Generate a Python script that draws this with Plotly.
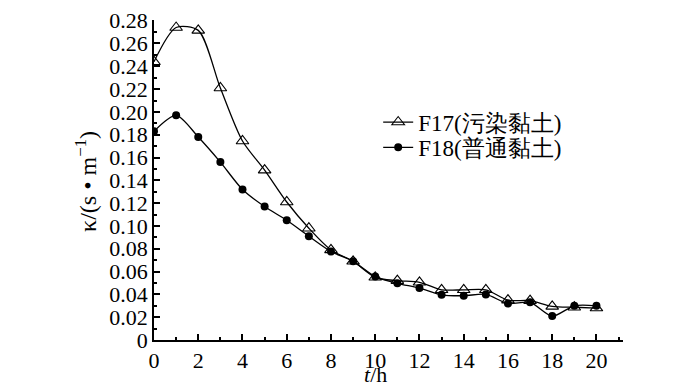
import plotly.graph_objects as go

t_hours = list(range(0, 21))
f17_values = [0.244, 0.274, 0.2715, 0.221, 0.1745, 0.149, 0.121, 0.098, 0.079, 0.069,
              0.055, 0.052, 0.0506, 0.044, 0.044, 0.044, 0.035, 0.0345, 0.0295, 0.0287, 0.028]
f18_values = [0.183, 0.197, 0.178, 0.156, 0.132, 0.117, 0.105, 0.091, 0.0776, 0.069,
              0.0556, 0.0497, 0.0455, 0.0396, 0.0388, 0.040, 0.032, 0.033, 0.021, 0.030, 0.030]
series_names = ["F17(污染黏土)", "F18(普通黏土)"]
y_ticks = [round(0.02 * i, 2) for i in range(15)]
y_tick_text = ["0" if v == 0 else f"{v:.2f}" for v in y_ticks]
x_ticks = list(range(0, 21, 2))

FONT = "Liberation Serif"

fig = go.Figure()
fig.add_trace(go.Scatter(
    x=t_hours, y=f17_values, name=series_names[0], mode="lines+markers", legend="legend",
    line=dict(color="black", width=1.3, shape="spline", smoothing=0.8),
    marker=dict(symbol="triangle-up-open", size=11, color="black", line=dict(width=1.1)),
))
fig.add_trace(go.Scatter(
    x=t_hours, y=f18_values, name=series_names[1], mode="lines+markers", legend="legend2",
    line=dict(color="black", width=1.3, shape="spline", smoothing=0.8),
    marker=dict(symbol="circle", size=8, color="black"),
))

legend_style = dict(xanchor="left", yanchor="middle", bgcolor="rgba(0,0,0,0)",
                    font=dict(size=23, family=FONT), itemwidth=30)

fig.update_layout(
    width=700, height=389,
    margin=dict(l=154, r=77, t=8, b=49),
    plot_bgcolor="white", paper_bgcolor="white",
    font=dict(family=FONT, size=22, color="black"),
    showlegend=True,
    legend=dict(x=0.478, y=0.681, **legend_style),
    legend2=dict(x=0.478, y=0.602, **legend_style),
    xaxis=dict(
        range=[0, 21.2], tickvals=x_ticks, ticks="inside", ticklen=6, tickwidth=1.5,
        tickcolor="black", showline=True, linecolor="black", linewidth=1.5,
        showgrid=False, zeroline=False, ticklabeloverflow="allow",
        minor=dict(dtick=1, tick0=0, ticks="inside", ticklen=3, tickwidth=1.5, tickcolor="black"),
        tickfont=dict(size=22, family=FONT),
    ),
    yaxis=dict(
        range=[0, 0.2806], tickvals=y_ticks, ticktext=y_tick_text, ticks="inside", ticklen=6,
        tickwidth=1.5, tickcolor="black", showline=True, linecolor="black", linewidth=1.5,
        showgrid=False, zeroline=False, ticklabeloverflow="allow",
        minor=dict(dtick=0.01, tick0=0, ticks="inside", ticklen=3, tickwidth=1.5, tickcolor="black"),
        tickfont=dict(size=22, family=FONT),
    ),
    annotations=[
        dict(text="<i>t</i>/h", x=10, xref="x", y=-0.108, yref="paper",
             xanchor="center", yanchor="middle", showarrow=False,
             font=dict(size=22, family=FONT)),
        dict(text="κ/(s • m<sup>−1</sup>)", x=-0.145, xref="paper", y=0.497, yref="paper",
             xanchor="center", yanchor="middle", textangle=-90, showarrow=False,
             font=dict(size=24, family=FONT)),
    ],
)

fig.write_html("out.html", config={"displayModeBar": False})

# remove the default page margin so the figure sits at the window's top-left corner
with open("out.html", encoding="utf-8") as fh:
    html = fh.read()
html = html.replace("<head>", "<head><style>html,body{margin:0;padding:0;overflow:hidden;}</style>", 1)
with open("out.html", "w", encoding="utf-8") as fh:
    fh.write(html)
